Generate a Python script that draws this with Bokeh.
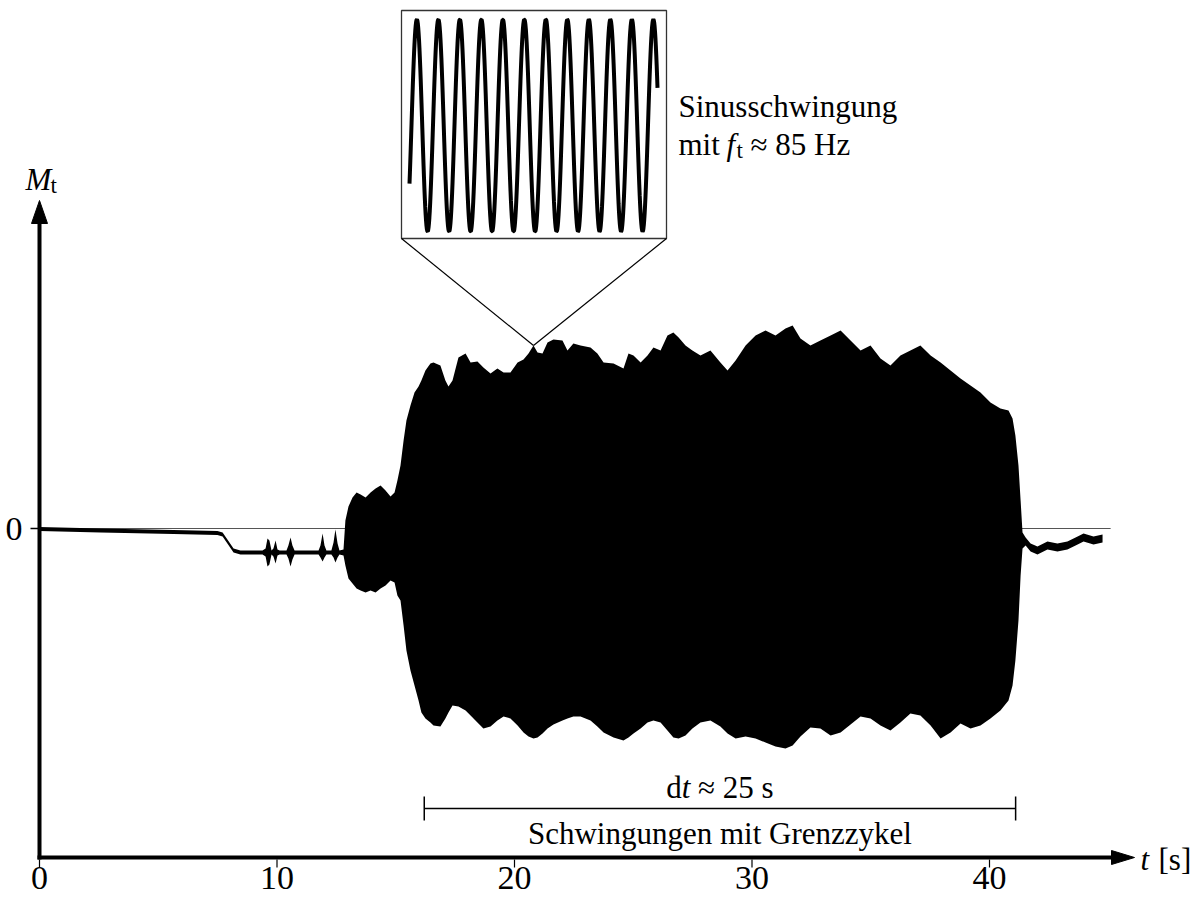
import numpy as np
from bokeh.plotting import figure
from bokeh.models import Range1d, FixedTicker, Label
from bokeh.embed import file_html
from bokeh.resources import INLINE

# ---------------- data ----------------
# envelope of the torque signal M_t(t): time [s], upper and lower envelope [arb. units]
t_env = [0.00, 2.57, 5.64, 7.49, 7.71, 8.17, 8.46, 9.39, 9.52, 9.60, 9.68, 9.77, 9.85, 9.94,
         10.02, 10.11, 10.40, 10.48, 10.57, 10.65, 10.74, 11.75, 11.83, 11.92, 12.00, 12.08,
         12.29, 12.38, 12.46, 12.55, 12.63, 12.80, 12.88, 13.01, 13.18, 13.35, 13.52, 13.73,
         13.94, 14.15, 14.36, 14.57, 14.78, 14.95, 15.07, 15.20, 15.33, 15.45, 15.62, 15.79,
         15.96, 16.08, 16.25, 16.46, 16.59, 16.88, 17.09, 17.22, 17.39, 17.64, 17.94, 18.15,
         18.44, 18.69, 18.99, 19.28, 19.54, 19.83, 20.13, 20.38, 20.59, 20.80, 20.97, 21.18,
         21.39, 21.64, 22.02, 22.23, 22.48, 22.78, 23.20, 23.49, 23.75, 24.17, 24.59, 24.80,
         25.01, 25.31, 25.60, 25.85, 26.15, 26.44, 26.69, 26.91, 27.20, 27.49, 27.83, 28.25,
         28.67, 28.97, 29.31, 29.73, 30.15, 30.57, 30.99, 31.41, 31.71, 32.04, 32.46, 32.88,
         33.31, 33.73, 34.15, 34.57, 34.99, 35.41, 35.83, 36.25, 36.67, 37.09, 37.52, 37.94,
         38.36, 38.78, 39.20, 39.62, 40.04, 40.46, 40.80, 40.97, 41.09, 41.22, 41.31, 41.39,
         41.52, 41.73, 42.02, 42.44, 42.86, 43.28, 43.71, 43.96, 44.38, 44.76]
m_upper = [0.015, 0.000, -0.015, -0.025, -0.040, -0.200, -0.220, -0.220, -0.200, -0.100, -0.120, -0.220, -0.200, -0.120,
           -0.210, -0.220, -0.220, -0.170, -0.090, -0.170, -0.220, -0.220, -0.170, -0.050, -0.170, -0.220,
           -0.220, -0.140, -0.010, -0.150, -0.220, -0.210, 0.080, 0.220, 0.310, 0.360, 0.340, 0.310,
           0.360, 0.400, 0.430, 0.380, 0.320, 0.360, 0.480, 0.630, 0.880, 1.080, 1.230, 1.360,
           1.420, 1.480, 1.580, 1.650, 1.660, 1.630, 1.480, 1.420, 1.480, 1.710, 1.750, 1.660,
           1.670, 1.610, 1.550, 1.600, 1.560, 1.560, 1.660, 1.690, 1.750, 1.830, 1.760, 1.750,
           1.860, 1.890, 1.880, 1.780, 1.850, 1.830, 1.810, 1.750, 1.660, 1.650, 1.600, 1.750,
           1.730, 1.660, 1.730, 1.810, 1.780, 1.930, 1.960, 1.910, 1.830, 1.780, 1.730, 1.780,
           1.660, 1.580, 1.680, 1.830, 1.930, 1.980, 1.930, 2.000, 2.030, 1.900, 1.830, 1.880,
           1.930, 1.980, 1.880, 1.780, 1.830, 1.700, 1.630, 1.730, 1.780, 1.830, 1.730, 1.660,
           1.580, 1.500, 1.430, 1.360, 1.260, 1.200, 1.180, 1.100, 0.930, 0.630, 0.280, -0.040,
           -0.090, -0.150, -0.180, -0.130, -0.150, -0.130, -0.080, -0.050, -0.080, -0.060]
m_lower = [-0.025, -0.040, -0.055, -0.065, -0.080, -0.240, -0.260, -0.260, -0.280, -0.380, -0.360, -0.260, -0.280, -0.350,
           -0.270, -0.260, -0.260, -0.300, -0.380, -0.310, -0.260, -0.260, -0.290, -0.330, -0.290, -0.260,
           -0.260, -0.290, -0.340, -0.290, -0.260, -0.270, -0.370, -0.500, -0.550, -0.600, -0.620, -0.640,
           -0.620, -0.640, -0.600, -0.570, -0.520, -0.540, -0.670, -0.720, -0.970, -1.220, -1.420, -1.570,
           -1.720, -1.840, -1.900, -1.940, -1.970, -1.980, -1.900, -1.840, -1.770, -1.780, -1.820, -1.870,
           -1.940, -2.000, -1.980, -1.920, -1.880, -1.900, -1.970, -2.040, -2.080, -2.100, -2.090, -2.050,
           -2.000, -1.960, -1.920, -1.900, -1.880, -1.880, -1.920, -1.980, -2.040, -2.090, -2.120, -2.090,
           -2.050, -2.000, -1.940, -1.920, -1.940, -2.020, -2.090, -2.100, -2.070, -2.000, -1.940, -1.920,
           -1.980, -2.050, -2.100, -2.080, -2.100, -2.140, -2.180, -2.200, -2.170, -2.080, -1.990, -2.000,
           -2.070, -2.040, -1.960, -1.880, -1.900, -1.970, -2.020, -1.940, -1.850, -1.870, -1.970, -2.100,
           -2.040, -1.950, -2.000, -1.970, -1.900, -1.820, -1.720, -1.570, -1.320, -0.920, -0.470, -0.200,
           -0.170, -0.230, -0.260, -0.210, -0.230, -0.210, -0.160, -0.130, -0.160, -0.140]

x_ticks = [0, 10, 20, 30, 40]
y_ticks = [0]
zero_line_t = [0.0, 45.1]

# limit-cycle interval marker
bracket_t = [16.2, 41.1]
bracket_m = -2.80
bracket_label_top = "≈ 25 s"
bracket_label_bottom = "Schwingungen mit Grenzzykel"

# inset: zoom on the oscillation (pure sine, f_t ~ 85 Hz)
inset_freq_hz = 85.0
inset_window_s = 0.1357
inset_phase0 = -0.58
inset_zoom_t = 20.80
inset_zoom_m = 1.83

# ---------------- layout ----------------
W, H = 1199, 903
LEFT = 22            # canvas x of frame left
FRAME_BOTTOM = 877   # canvas y of frame bottom
X0, PX_PER_S = 39, 23.75
Y0, PX_PER_M = 528, 100.0
LABEL_DY = -9        # correction of label baseline placement

def tx(t):
    return X0 + PX_PER_S * t

def my(m):
    return Y0 - PX_PER_M * m

def px_to_t(x):
    return (x - X0) / PX_PER_S

def py_to_m(y):
    return (Y0 - y) / PX_PER_M

FONT = "Liberation Serif"
FS = 31
TICK_FS = 34
SUB_FS = 23

p = figure(width=W, height=H, title=None, output_backend="svg", toolbar_location=None,
           x_range=Range1d(px_to_t(LEFT), px_to_t(W)),
           y_range=Range1d(py_to_m(FRAME_BOTTOM), py_to_m(0)),
           min_border_left=LEFT, min_border_right=0, min_border_top=0,
           min_border_bottom=H - FRAME_BOTTOM)
p.extra_x_ranges = {"px": Range1d(LEFT, W)}
p.extra_y_ranges = {"px": Range1d(FRAME_BOTTOM, 0)}
p.outline_line_color = None
p.xgrid.visible = False
p.ygrid.visible = False
p.background_fill_color = "white"
p.border_fill_color = "white"

for ax, ticks in ((p.xaxis, x_ticks), (p.yaxis, y_ticks)):
    ax.ticker = FixedTicker(ticks=ticks, minor_ticks=[])
    ax.axis_line_color = None
    ax.minor_tick_line_color = None
    ax.major_tick_line_color = None
    ax.major_tick_in = 0
    ax.major_tick_out = 0
    ax.major_label_text_font = FONT
    ax.major_label_text_font_size = f"{TICK_FS}px"
    ax.major_label_text_color = "black"
p.xaxis.major_label_standoff = -11
p.yaxis.major_label_standoff = 0

PX = dict(x_range_name="px", y_range_name="px")

# tick marks (drawn at the tick values, below / left of the axis lines)
p.segment(x0=x_ticks, x1=x_ticks, y0=[py_to_m(859)] * len(x_ticks), y1=[py_to_m(867)] * len(x_ticks),
          line_color="black", line_width=1.2)
p.segment(x0=[px_to_t(30)] * len(y_ticks), x1=[px_to_t(38)] * len(y_ticks), y0=y_ticks, y1=y_ticks,
          line_color="black", line_width=1.5)

# zero reference line
p.line(zero_line_t, [0, 0], line_color="#555555", line_width=1.2)

# signal envelope
p.varea(x=t_env, y1=m_lower, y2=m_upper, fill_color="black")

# axes arrows
p.line([39, 39], [859, 215], line_color="black", line_width=4, **PX)
p.line([37, 1115], [857, 857], line_color="black", line_width=4, **PX)
p.patch([39, 31, 47], [200, 223, 223], fill_color="black", line_color="black", line_width=1, **PX)
p.patch([1134, 1111, 1111], [857, 850, 864], fill_color="black", line_color="black", line_width=1, **PX)

def txt(x, y, s, size=FS, style="normal", align="left"):
    p.add_layout(Label(x=x, y=y + LABEL_DY, text=s, text_font=FONT, text_font_size=f"{size}px",
                       text_font_style=style, text_align=align, text_baseline="alphabetic",
                       text_color="black", **PX))

# axis labels
txt(25, 188, "M", style="italic")
txt(50, 194, "t", size=SUB_FS)
txt(1140, 868, "t", style="italic")
txt(1158, 868, "[s]")

# bracket
bx0, bx1 = bracket_t
p.segment(x0=[bx0, bx0, bx1], y0=[bracket_m, bracket_m + 0.12, bracket_m + 0.12],
          x1=[bx1, bx0, bx1], y1=[bracket_m, bracket_m - 0.12, bracket_m - 0.12],
          line_color="black", line_width=1.5)
cx = tx((bx0 + bx1) / 2)
w_d, w_t, w_sp, w_rest = 0.5 * FS, 0.278 * FS, 0.25 * FS, 2.438 * FS
sx = cx - (w_d + w_t + w_sp + w_rest) / 2
txt(sx, 796, "d")
txt(sx + w_d, 796, "t", style="italic")
txt(sx + w_d + w_t + w_sp, 796, bracket_label_top)
txt(cx, 842, bracket_label_bottom, align="center")

# inset box
BL, BR, BT, BB = 401, 666, 10, 238
p.quad(left=[BL], right=[BR], top=[BT], bottom=[BB], fill_color="white",
       line_color="#333333", line_width=1.3, **PX)
ax_, ay_ = tx(inset_zoom_t), my(inset_zoom_m)
p.segment(x0=[BL, BR], y0=[BB, BB], x1=[ax_, ax_], y1=[ay_, ay_],
          line_color="black", line_width=1.2, **PX)
ti = np.linspace(0, inset_window_s, 600)
si = np.sin(2 * np.pi * inset_freq_hz * ti + inset_phase0)
p.line(409 + (657 - 409) * ti / inset_window_s, 125 - 106 * si,
       line_color="black", line_width=4, **PX)

# inset caption
txt(678, 115, "Sinusschwingung")
txt(678, 153, "mit")
txt(726, 153, "f", style="italic")
txt(736, 159, "t", size=SUB_FS)
txt(750, 153, "≈ 85 Hz")

open("out.html", "w").write(file_html(p, INLINE))
